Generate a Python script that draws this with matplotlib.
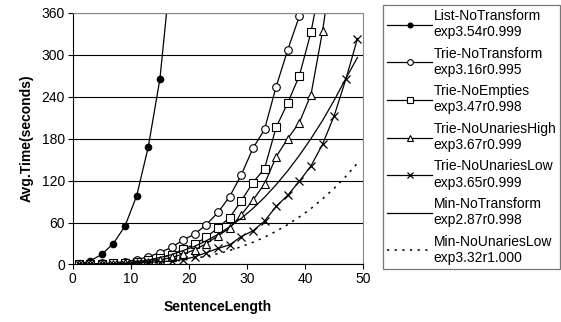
import numpy as np
import matplotlib
matplotlib.use("Agg")
import matplotlib.pyplot as plt

plt.rcParams['font.family'] = ['Liberation Sans', 'DejaVu Sans']

# sentence lengths (odd values)
x_list = [1, 3, 5, 7, 9, 11, 13, 15, 17]
list_notransform = [0.5, 5, 14.5, 30, 55, 98, 168, 265, 430]

x_trie = [1, 3, 5, 7, 9, 11, 13, 15, 17, 19, 21, 23, 25, 27, 29, 31, 33, 35, 37, 39, 41]
trie_notransform = [0.5, 1, 1.5, 2.5, 4, 7, 11, 17, 24.5, 35, 43.5, 57, 74.5, 97, 128,
                    166, 193, 254, 307, 355, 450]

x_empt = [1, 3, 5, 7, 9, 11, 13, 15, 17, 19, 21, 23, 25, 27, 29, 31, 33, 35, 37, 39, 41, 43]
trie_noempties = [0.3, 0.5, 1, 1.5, 2.5, 4, 6, 9, 14, 21.7, 29, 39, 52.6, 67, 91, 117,
                  137, 196, 231, 270, 332, 420]

x_high = [1, 3, 5, 7, 9, 11, 13, 15, 17, 19, 21, 23, 25, 27, 29, 31, 33, 35, 37, 39, 41, 43, 45]
trie_nounarieshigh = [0.2, 0.4, 0.7, 1, 1.5, 2.5, 4, 6.5, 10, 15, 21, 30, 41, 52, 71, 92,
                      115, 154, 180, 203, 243, 334, 450]

x_all = [1, 3, 5, 7, 9, 11, 13, 15, 17, 19, 21, 23, 25, 27, 29, 31, 33, 35, 37, 39, 41, 43, 45, 47, 49]
trie_nounarieslow = [0.1, 0.3, 0.5, 0.8, 1.2, 2, 3, 4, 5, 7, 11, 17, 23, 28, 40, 48,
                     62, 83, 99, 119, 141, 172, 213, 265, 323]
min_notransform = [0, 0.1, 0.4, 1, 2, 4, 6, 10, 14, 20, 26, 34, 43, 54, 66, 80,
                   96, 114, 134, 156, 180, 206, 235, 266, 296]
min_nounarieslow = [0, 0, 0.1, 0.2, 0.5, 1, 1.8, 2.9, 4.3, 6.3, 8.7, 11.8, 15.5, 20, 25.4, 31.7,
                    39, 47.5, 57, 68, 80, 94, 109, 126, 145]

labels = ["List-NoTransform\nexp3.54r0.999",
          "Trie-NoTransform\nexp3.16r0.995",
          "Trie-NoEmpties\nexp3.47r0.998",
          "Trie-NoUnariesHigh\nexp3.67r0.999",
          "Trie-NoUnariesLow\nexp3.65r0.999",
          "Min-NoTransform\nexp2.87r0.998",
          "Min-NoUnariesLow\nexp3.32r1.000"]

fig = plt.figure(figsize=(5.61, 3.22), dpi=100)
ax = fig.add_axes([0.1296, 0.1786, 0.518, 0.782])

lw = 0.9
ax.plot(x_list, list_notransform, '-o', color='black', lw=lw, ms=4.5,
        mfc='black', label=labels[0])
ax.plot(x_trie, trie_notransform, '-o', color='black', lw=lw, ms=5.5,
        mfc='white', mew=0.8, label=labels[1])
ax.plot(x_empt, trie_noempties, '-s', color='black', lw=lw, ms=5.5,
        mfc='white', mew=0.8, label=labels[2])
ax.plot(x_high, trie_nounarieshigh, '-^', color='black', lw=lw, ms=5.5,
        mfc='white', mew=0.8, label=labels[3])
ax.plot(x_all, trie_nounarieslow, '-x', color='black', lw=lw, ms=6,
        mew=0.9, label=labels[4])
ax.plot(x_all, min_notransform, '-', color='black', lw=lw, label=labels[5])
ax.plot(x_all, min_nounarieslow, color='black', lw=1.1,
        linestyle=(0, (1.5, 3.5)), label=labels[6])

ax.set_xlim(0, 50)
ax.set_ylim(0, 360)
ax.set_xticks(range(0, 51, 10))
ax.set_yticks(range(0, 361, 60))
ax.yaxis.grid(True, color='black', lw=0.8)
ax.set_axisbelow(True)
ax.tick_params(labelsize=10, length=3.5, width=0.8, colors='black', pad=2)
for s in ax.spines.values():
    s.set_linewidth(0.8)
ax.spines['right'].set_color('#888888')
ax.spines['top'].set_color('#888888')

ax.set_xlabel("SentenceLength", fontsize=10, fontweight='bold', labelpad=10)
ax.set_ylabel("Avg.Time(seconds)", fontsize=10, fontweight='bold', labelpad=6)

leg = fig.legend(loc='upper left', bbox_to_anchor=(0.683, 0.9845, 0.315, 0.0),
                 mode='expand', fontsize=10, frameon=True, fancybox=False,
                 handlelength=3.2, handletextpad=0.15, labelspacing=0.53,
                 borderpad=0.3, borderaxespad=0.0, markerscale=0.75)
leg.get_frame().set_edgecolor('#555555')
leg.get_frame().set_linewidth(0.9)

fig.savefig("out.png", dpi=100)
